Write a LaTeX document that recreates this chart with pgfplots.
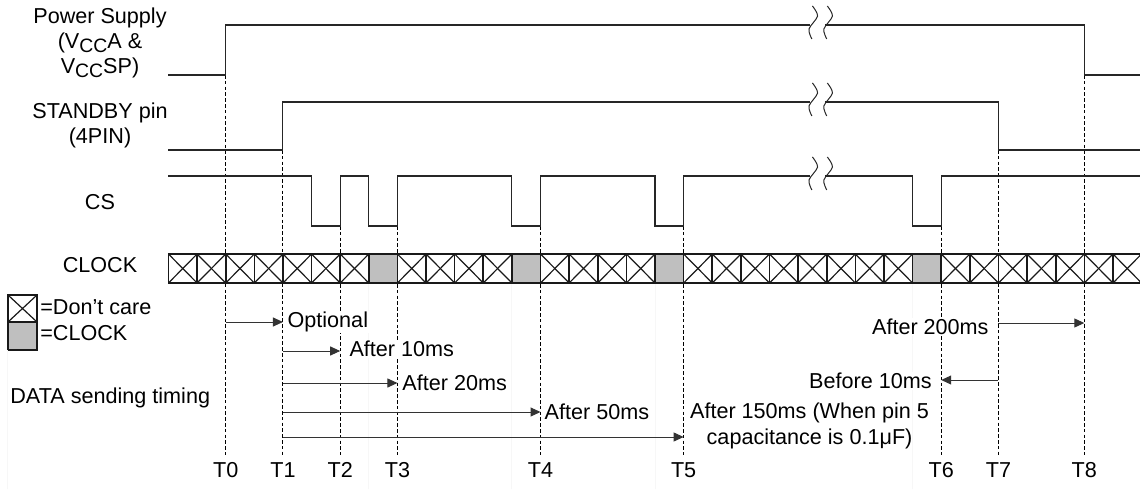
\documentclass[border=0pt]{standalone}
\usepackage{fontspec}
\setmainfont{Liberation Sans}
\usepackage{pgfplots}
\pgfplotsset{compat=1.18}
\usetikzlibrary{arrows.meta}
\begin{document}
\begin{tikzpicture}[font=\fontsize{10.8}{12.3}\selectfont]
\begin{axis}[scale only axis, width=570pt, height=244.5pt,
  xmin=-5.886, xmax=33.946, ymin=0, ymax=489,
  axis lines=none, clip mode=individual,
  sig/.style={black!85, line width=0.55pt, mark=none},
  dsh/.style={black, line width=0.55pt, dash pattern=on 1.8pt off 1.1pt, mark=none},
  arr/.style={black!80, line width=0.5pt, mark=none, -{Triangle[length=5pt,width=4.5pt]}},
  clk/.style={black!90, line width=0.8pt, mark=none},
  sq/.style={black!85, line width=0.5pt, mark=none, smooth}]
\addplot[draw=none] coordinates {(-5.886,0)(33.946,489)};
% dashed timing lines
\addplot[dsh] coordinates {(2,414)(2,34)};
\addplot[dsh] coordinates {(4,339)(4,34)};
\addplot[dsh] coordinates {(6,263)(6,34)};
\addplot[dsh] coordinates {(8,263)(8,34)};
\addplot[dsh] coordinates {(13,263)(13,34)};
\addplot[dsh] coordinates {(18,263)(18,34)};
\addplot[dsh] coordinates {(27,263)(27,34)};
\addplot[dsh] coordinates {(29,339)(29,34)};
\addplot[dsh] coordinates {(32,414)(32,34)};
% Power supply
\addplot[sig] coordinates {(0,414)(2,414)(2,464)(22.42,464)};
\addplot[sig] coordinates {(22.94,464)(32,464)(32,414)(33.946,414)};
\addplot[sq] coordinates {(22.50,483)(22.68,473)(22.38,460)(22.48,450)};
\addplot[sq] coordinates {(23.02,483)(23.20,473)(22.90,460)(23.00,450)};
% Standby
\addplot[sig] coordinates {(0,339)(4,339)(4,387)(22.42,387)};
\addplot[sig] coordinates {(22.94,387)(29,387)(29,339)(33.946,339)};
\addplot[sq] coordinates {(22.50,406)(22.68,396)(22.38,383)(22.48,373)};
\addplot[sq] coordinates {(23.02,406)(23.20,396)(22.90,383)(23.00,373)};
% CS
\addplot[sig] coordinates {(0,313)(5,313)(5,263)(6,263)(6,313)(7,313)(7,263)(8,263)(8,313)(12,313)(12,263)(13,263)(13,313)(17,313)(17,263)(18,263)(18,313)(22.42,313)};
\addplot[sig] coordinates {(22.94,313)(26,313)(26,263)(27,263)(27,313)(33.946,313)};
\addplot[sq] coordinates {(22.50,332)(22.68,322)(22.38,309)(22.48,299)};
\addplot[sq] coordinates {(23.02,332)(23.20,322)(22.90,309)(23.00,299)};
% CLOCK gray cells
\addplot[draw=none, fill=black!25] coordinates {(7,206)(8,206)(8,235)(7,235)} \closedcycle;
\addplot[draw=none, fill=black!25] coordinates {(12,206)(13,206)(13,235)(12,235)} \closedcycle;
\addplot[draw=none, fill=black!25] coordinates {(17,206)(18,206)(18,235)(17,235)} \closedcycle;
\addplot[draw=none, fill=black!25] coordinates {(26,206)(27,206)(27,235)(26,235)} \closedcycle;
% clock outline
\addplot[clk] coordinates {(0,235)(33.946,235)};
\addplot[clk] coordinates {(0,206)(33.946,206)};
\addplot[clk] coordinates {(0,206)(0,235)(1,235)(1,206)(2,206)(2,235)(3,235)(3,206)(4,206)(4,235)(5,235)(5,206)(6,206)(6,235)(7,235)(7,206)(8,206)(8,235)(9,235)(9,206)(10,206)(10,235)(11,235)(11,206)(12,206)(12,235)(13,235)(13,206)(14,206)(14,235)(15,235)(15,206)(16,206)(16,235)(17,235)(17,206)(18,206)(18,235)(19,235)(19,206)(20,206)(20,235)(21,235)(21,206)(22,206)(22,235)(23,235)(23,206)(24,206)(24,235)(25,235)(25,206)(26,206)(26,235)(27,235)(27,206)(28,206)(28,235)(29,235)(29,206)(30,206)(30,235)(31,235)(31,206)(32,206)(32,235)(33,235)(33,206)};
% clock X diagonals
\addplot[clk, line width=0.6pt] coordinates {(0,235)(1,206)(2,235)(3,206)(4,235)(5,206)(6,235)(7,206)};
\addplot[clk, line width=0.6pt] coordinates {(0,206)(1,235)(2,206)(3,235)(4,206)(5,235)(6,206)(7,235)};
\addplot[clk, line width=0.6pt] coordinates {(8,235)(9,206)(10,235)(11,206)(12,235)};
\addplot[clk, line width=0.6pt] coordinates {(8,206)(9,235)(10,206)(11,235)(12,206)};
\addplot[clk, line width=0.6pt] coordinates {(13,235)(14,206)(15,235)(16,206)(17,235)};
\addplot[clk, line width=0.6pt] coordinates {(13,206)(14,235)(15,206)(16,235)(17,206)};
\addplot[clk, line width=0.6pt] coordinates {(18,235)(19,206)(20,235)(21,206)(22,235)(23,206)(24,235)(25,206)(26,235)};
\addplot[clk, line width=0.6pt] coordinates {(18,206)(19,235)(20,206)(21,235)(22,206)(23,235)(24,206)(25,235)(26,206)};
\addplot[clk, line width=0.6pt] coordinates {(27,235)(28,206)(29,235)(30,206)(31,235)(32,206)(33,235)(34,206)};
\addplot[clk, line width=0.6pt] coordinates {(27,206)(28,235)(29,206)(30,235)(31,206)(32,235)(33,206)(34,235)};
% legend boxes
\addplot[draw=none, fill=black!25] coordinates {(-5.607,139)(-4.593,139)(-4.593,167)(-5.607,167)} \closedcycle;
\addplot[clk] coordinates {(-5.607,139)(-4.593,139)(-4.593,194)(-5.607,194)(-5.607,139)};
\addplot[clk] coordinates {(-5.607,167)(-4.593,167)};
\addplot[clk, line width=0.6pt] coordinates {(-5.607,194)(-4.593,167)};
\addplot[clk, line width=0.6pt] coordinates {(-5.607,167)(-4.593,194)};
% labels
\node[align=center] at (-2.392,446) {Power Supply\\(V\raisebox{-0.35ex}{\fontsize{9.7}{9.7}\selectfont CC}A \&\\V\raisebox{-0.35ex}{\fontsize{9.7}{9.7}\selectfont CC}SP)};
\node[align=center] at (-2.392,363.5) {STANDBY pin\\(4PIN)};
\node at (-2.392,287) {CS};
\node at (-2.392,224) {CLOCK};
\node[anchor=west, inner sep=0pt] at (-4.49,182) {=Don’t care};
\node[anchor=west, inner sep=0pt] at (-4.49,156) {=CLOCK};
\node[anchor=west, inner sep=0pt] at (-5.537,91) {DATA sending timing};
% annotation texts
\node[anchor=west, fill=white, inner sep=0.6pt] at (4.107,167) {Optional};
\node[anchor=west, fill=white, inner sep=0.6pt] at (6.27,140) {After 10ms};
\node[anchor=west, fill=white, inner sep=0.6pt] at (8.12,106) {After 20ms};
\node[anchor=west, fill=white, inner sep=0.6pt] at (13.09,77) {After 50ms};
\node[align=center, inner sep=0pt, font=\fontsize{10.8}{13}\selectfont] at (22.40,63) {After 150ms (When pin 5\\capacitance is 0.1μF)};
\node[anchor=east, fill=white, inner sep=0.6pt] at (28.71,162) {After 200ms};
\node[anchor=east, fill=white, inner sep=0.6pt] at (26.72,108) {Before 10ms};
% arrows
\addplot[arr] coordinates {(2,167)(4,167)};
\addplot[arr] coordinates {(4,138)(6,138)};
\addplot[arr] coordinates {(4,106)(8,106)};
\addplot[arr] coordinates {(4,77)(13,77)};
\addplot[arr] coordinates {(4,52)(18,52)};
\addplot[arr] coordinates {(29,166)(32,166)};
\addplot[arr] coordinates {(29,109)(27,109)};
% T labels
\node at (2,19) {T0};
\node at (4,19) {T1};
\node at (6,19) {T2};
\node at (8,19) {T3};
\node at (13,19) {T4};
\node at (18,19) {T5};
\node at (27,19) {T6};
\node at (29,19) {T7};
\node at (32,19) {T8};
\end{axis}
\end{tikzpicture}
\end{document}
